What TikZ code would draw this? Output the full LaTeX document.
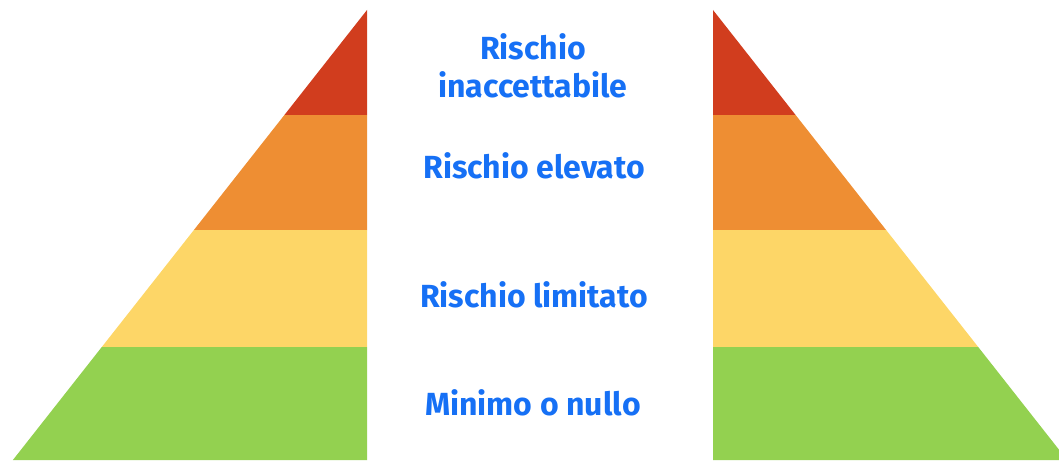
\documentclass[tikz,border=0pt]{standalone}
\usepackage{fontspec}
\setmainfont{Fira Sans}
\usepackage{xcolor}
\usepackage{tikz}

\definecolor{riskred}{RGB}{209,61,30}
\definecolor{riskorange}{RGB}{238,142,51}
\definecolor{riskyellow}{RGB}{253,214,103}
\definecolor{riskgreen}{RGB}{147,209,80}
\definecolor{riskblue}{RGB}{22,112,245}

\tikzset{
  level/.style={font=\fontsize{32}{38}\selectfont\bfseries, text=riskblue, align=center}
}

\begin{document}
\begin{tikzpicture}[x=1pt,y=-1pt]
\useasboundingbox (0,0) rectangle (1059,460);
\clip (0,0) rectangle (1059,460);

% left half
\fill[riskred]    (367,10) -- (284.4,115) -- (367,115) -- cycle;
\fill[riskorange] (284.4,115) -- (193.9,230) -- (367,230) -- (367,115) -- cycle;
\fill[riskyellow] (193.9,230) -- (101.8,347) -- (367,347) -- (367,230) -- cycle;
\fill[riskgreen]  (101.8,347) -- (12.9,460) -- (367,460) -- (367,347) -- cycle;

% right half
\fill[riskred]    (713,10) -- (795.6,115) -- (713,115) -- cycle;
\fill[riskorange] (795.6,115) -- (886.1,230) -- (713,230) -- (713,115) -- cycle;
\fill[riskyellow] (886.1,230) -- (978.2,347) -- (713,347) -- (713,230) -- cycle;
\fill[riskgreen]  (978.2,347) -- (1067.1,460) -- (713,460) -- (713,347) -- cycle;

% labels
\node[level] (inacc) at (533,66)  {Rischio\\inaccettabile};
\node[level] (elev)  at (534,166) {Rischio elevato};
\node[level] (limit) at (534,295) {Rischio limitato};
\node[level] (minim) at (533,403) {Minimo o nullo};
\end{tikzpicture}
\end{document}
